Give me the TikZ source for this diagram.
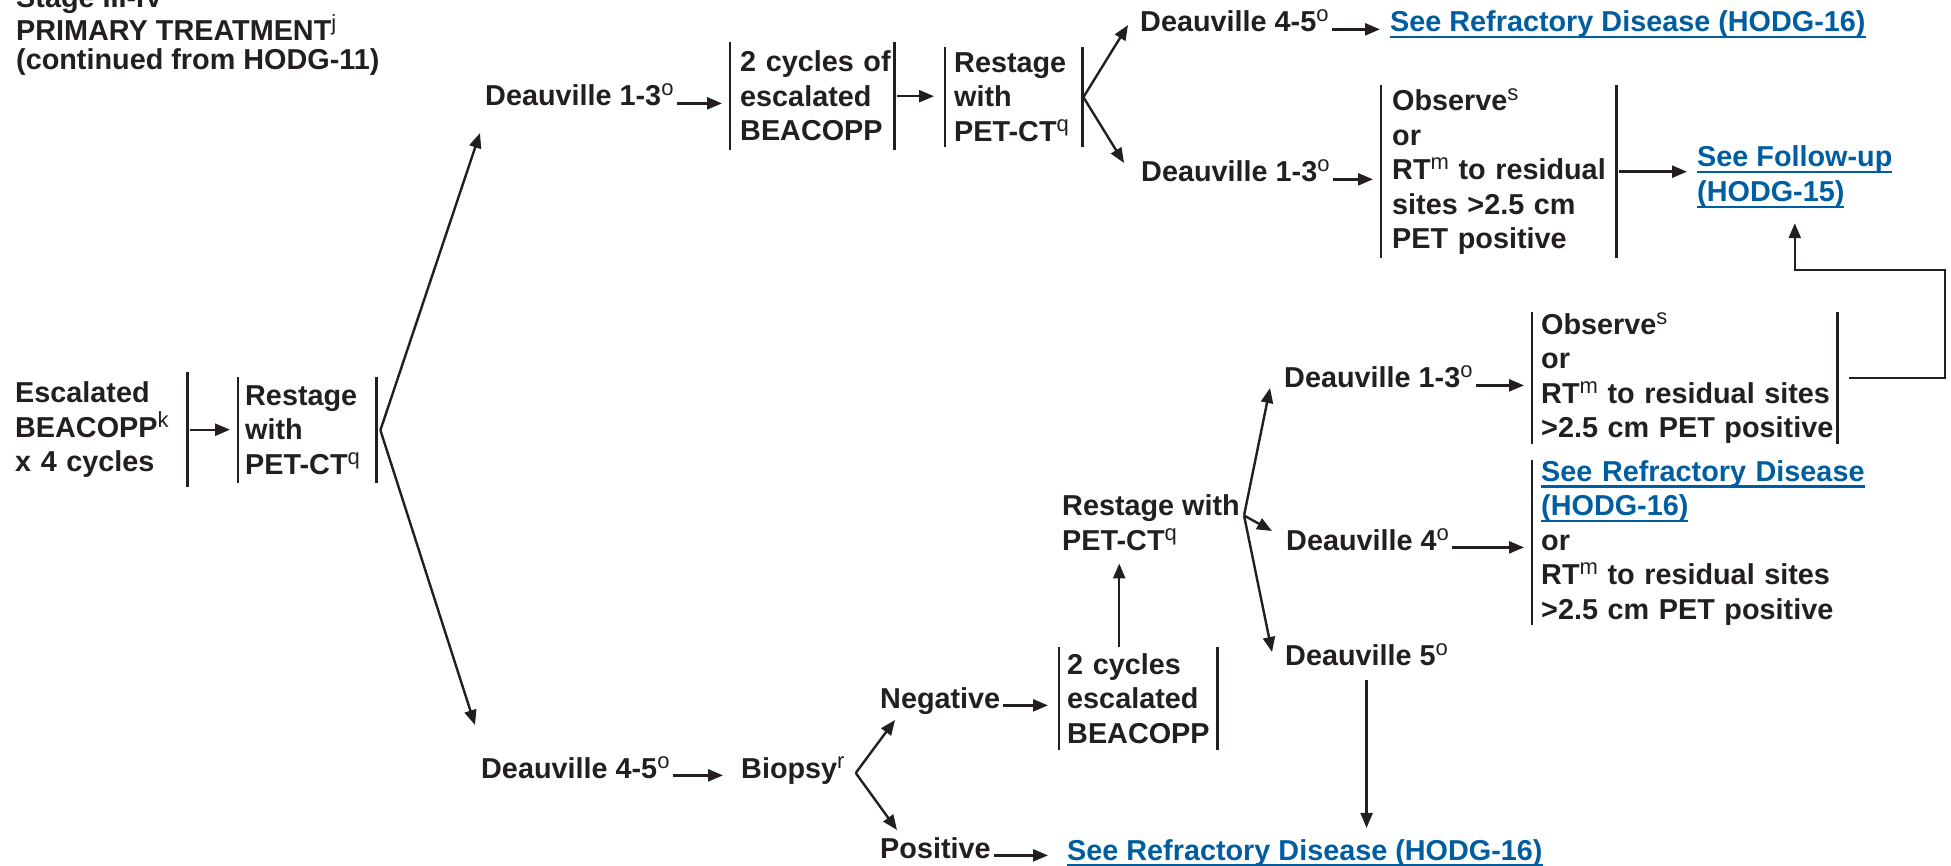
\documentclass[tikz,border=0pt]{standalone}
\usepackage{fontspec}
\setmainfont{Liberation Sans}
\usetikzlibrary{arrows.meta}

\definecolor{ink}{RGB}{35,31,32}
\definecolor{linkblue}{RGB}{0,94,160}

\newcommand{\sups}[1]{\raisebox{10pt}{\fontsize{22}{22}\selectfont\mdseries #1}}
\newcommand{\ul}[1]{\leavevmode\setbox0\hbox{#1}\rlap{\rule[-6.5pt]{\wd0}{2.4pt}}\box0}
\newcommand{\lblfont}{\fontsize{28.8}{34.5}\selectfont\bfseries\hyphenpenalty=10000\exhyphenpenalty=10000}

\tikzset{
  lbl/.style={inner sep=0pt, anchor=base west, align=left, text=ink, font=\lblfont},
  hlink/.style={lbl, text=linkblue},
  boxed/.style={lbl, anchor=north west, inner xsep=#1, inner ysep=0pt},
  bar/.style={draw=ink, line width=2.6pt},
  arr/.style={draw=ink, line width=2.4pt, -{Triangle[length=15pt,width=12pt]}},
  hop/.style={arr, shorten <=3pt, shorten >=#1},
  hop/.default=8pt
}

\begin{document}
\begin{tikzpicture}[x=1pt, y=-1pt]
  \useasboundingbox (0,0) rectangle (1951,866);

  % heading (base = last line)
  \node[lbl, font=\fontsize{28.8}{28.5}\selectfont\bfseries] (head) at (16,69.5)
    {Stage III-IV\\PRIMARY TREATMENT\sups{j}\\(continued from HODG-11)};

  % boxes with side bars
  \node[boxed=8pt, text width=164pt, minimum height=115pt] (esc) at (7,372)
    {Escalated\\BEACOPP\sups{k}\\x 4 cycles};
  \node[boxed=7pt, text width=124pt, minimum height=106pt] (rs1) at (238,377)
    {Restage\\with\\PET-CT\sups{q}};
  \node[boxed=10pt, text width=144pt, minimum height=108pt] (cyc1) at (730,42)
    {2~cycles~of\\escalated\\BEACOPP};
  \node[boxed=9pt, text width=119pt, minimum height=100pt] (rs2) at (945,47)
    {Restage\\with\\PET-CT\sups{q}};
  \node[boxed=11pt, text width=213pt, minimum height=173pt] (obs1) at (1381,85)
    {Observe\sups{s}\\or\\RT\sups{m}~to~residual\\sites~>2.5~cm\\PET~positive};
  \node[boxed=9pt, text width=287pt, minimum height=128pt] (obs2) at (1532,312)
    {Observe\sups{s}\\or\\RT\sups{m}~to~residual~sites\\>2.5~cm~PET~positive};
  \node[boxed=9pt, text width=340pt, minimum height=163pt] (ref2) at (1532,460)
    {\leavevmode{\color{linkblue}\ul{See Refractory Disease}}\\{\color{linkblue}\ul{(HODG-16)}}\\or\\RT\sups{m}~to~residual~sites\\>2.5~cm~PET~positive};
  \node[boxed=8pt, text width=142pt, minimum height=103pt] (cyc2) at (1059,647)
    {2~cycles\\escalated\\BEACOPP};

  % plain labels
  \node[lbl] (d13t) at (485,106) {Deauville 1-3\sups{o}};
  \node[lbl] (d45t) at (1140,32) {Deauville 4-5\sups{o}};
  \node[hlink] (ref1) at (1390,32) {\ul{See Refractory Disease (HODG-16)}};
  \node[lbl] (d13m) at (1141,182) {Deauville 1-3\sups{o}};
  \node[hlink] (fu) at (1697,201.5) {\ul{See Follow-up}\\\ul{(HODG-15)}};
  \node[lbl] (rsw) at (1062,550) {Restage with\\PET-CT\sups{q}};
  \node[lbl] (d13l) at (1284,388) {Deauville 1-3\sups{o}};
  \node[lbl] (d4) at (1286,550) {Deauville 4\sups{o}};
  \node[lbl] (d5) at (1285,665) {Deauville 5\sups{o}};
  \node[lbl] (d45b) at (481,778) {Deauville 4-5\sups{o}};
  \node[lbl] (bio) at (741,778) {Biopsy\sups{r}};
  \node[lbl] (neg) at (880,708) {Negative};
  \node[lbl] (pos) at (880,858) {Positive};
  \node[hlink] (ref3) at (1067,860) {\ul{See Refractory Disease (HODG-16)}};

  % side bars
  \foreach \b in {rs1,cyc1,rs2,obs1,obs2,cyc2}
    \draw[bar] (\b.north west) -- (\b.south west) (\b.north east) -- (\b.south east);
  \draw[bar] (esc.north east) -- (esc.south east);
  \draw[bar] (ref2.north west) -- (ref2.south west);

  % straight arrows
  \draw[hop] (esc.east) -- (esc.east -| rs1.west);
  \draw[hop] (d13t.mid east) -- (d13t.mid east -| cyc1.west);
  \draw[hop=11pt] (cyc1.east) -- (cyc1.east -| rs2.west);
  \draw[hop=10pt] (d45t.mid east) -- (d45t.mid east -| ref1.west);
  \draw[hop] (d13m.mid east) -- (d13m.mid east -| obs1.west);
  \draw[hop=10pt] (obs1.east) -- (obs1.east -| fu.west);
  \draw[hop] (d13l.mid east) -- (d13l.mid east -| obs2.west);
  \draw[hop] (d4.mid east) -- (d4.mid east -| ref2.west);
  \draw[hop=18pt] (d45b.mid east) -- (d45b.mid east -| bio.west);
  \draw[hop=11pt] (neg.mid east) -- (neg.mid east -| cyc2.west);
  \draw[hop=19pt] (pos.mid east) -- (pos.mid east -| ref3.west);

  % forks
  \foreach \dest/\dx/\dy in {d13t/-5/27, d45b/-6/-53}
    \draw[arr] ([xshift=4pt]rs1.east) -- ([shift={(\dx,\dy)}]\dest.base west);
  \foreach \dest/\dx/\dy in {d45t/-12/-7, d13m/-17/-19}
    \draw[arr] ([xshift=1pt]rs2.east) -- ([shift={(\dx,\dy)}]\dest.base west);
  \foreach \dest/\dx/\dy in {d13l/-14/0, d4/-14/-19, d5/-13/-13}
    \draw[arr] ([shift={(4,-34.5)}]rsw.base east) -- ([shift={(\dx,\dy)}]\dest.base west);
  \foreach \dest/\dx/\dy in {neg/15/12, pos/17/-28}
    \draw[arr] ([shift={(11,-5)}]bio.base east) -- ([shift={(\dx,\dy)}]\dest.base west);

  % vertical arrows and loop
  \draw[arr, shorten >=13pt] ([xshift=-19pt]cyc2.north) -- ([xshift=-19pt]cyc2.north |- rsw.south);
  \draw[arr, shorten <=15pt, shorten >=11pt] (d5.south) -- (d5.south |- ref3.north);
  \coordinate (loop) at (1945,270);
  \draw[arr] ([xshift=12pt]obs2.east) -| (loop) -| ([yshift=-15pt]fu.south);
\end{tikzpicture}
\end{document}
